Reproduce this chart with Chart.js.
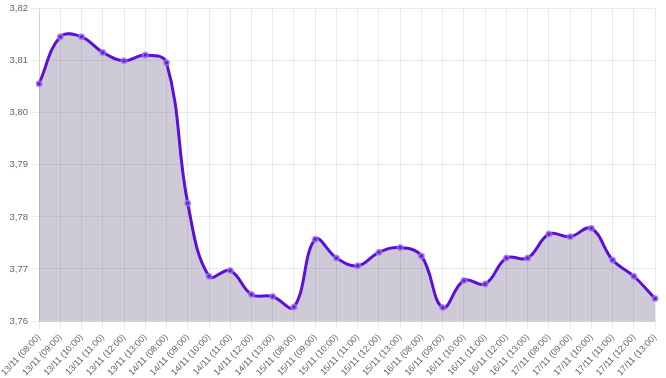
<!DOCTYPE html>
<html>
<head>
<meta charset="utf-8">
<script src="https://cdn.jsdelivr.net/npm/chart.js@4/dist/chart.umd.min.js"></script>
<style>
  html, body { margin: 0; padding: 0; background: #fff; }
  #wrap { width: 666px; height: 378px; }
</style>
</head>
<body>
<div id="wrap"><canvas id="c"></canvas></div>
<script>
// Data
const days = ['13/11', '14/11', '15/11', '16/11', '17/11'];
const hours = ['08:00', '09:00', '10:00', '11:00', '12:00', '13:00'];
const labels = [];
days.forEach(d => hours.forEach(h => labels.push(`${d} (${h})`)));

const values = [
  3.8056, 3.8146, 3.8146, 3.8116, 3.8100, 3.8111,
  3.8096, 3.7826, 3.7686, 3.7697, 3.7651, 3.7647,
  3.7627, 3.7757, 3.7721, 3.7706, 3.7732, 3.7741,
  3.7725, 3.7626, 3.7678, 3.7671, 3.7721, 3.7721,
  3.7767, 3.7762, 3.7778, 3.7717, 3.7686, 3.7643
];

const yMin = 3.76, yMax = 3.82;

new Chart(document.getElementById('c'), {
  type: 'line',
  data: {
    labels,
    datasets: [{
      data: values,
      borderColor: '#5c0fd9',
      borderWidth: 3,
      backgroundColor: 'rgba(70,50,100,0.26)',
      fill: 'start',
      tension: 0.4,
      pointRadius: 2.5,
      pointBackgroundColor: '#6a14e0',
      pointBorderColor: 'rgba(160,120,235,0.7)',
      pointBorderWidth: 2
    }]
  },
  options: {
    responsive: true,
    maintainAspectRatio: false,
    animation: false,
    layout: { padding: { top: 7, right: 2, left: 0, bottom: 0 } },
    plugins: { legend: { display: false }, tooltip: { enabled: false } },
    scales: {
      x: {
        grid: { color: 'rgba(0,0,0,0.08)' },
        ticks: { color: '#666', font: { size: 9 }, maxRotation: 47, minRotation: 47, autoSkip: false },
        afterFit: (s) => { s.height = 57; }
      },
      y: {
        min: yMin, max: yMax,
        grid: { color: 'rgba(0,0,0,0.08)' },
        ticks: { color: '#666', font: { size: 9.5 }, stepSize: 0.01,
          callback: (v) => v.toFixed(2).replace('.', ',') },
        afterFit: (s) => { s.width = 39; }
      }
    }
  }
});
</script>
</body>
</html>
